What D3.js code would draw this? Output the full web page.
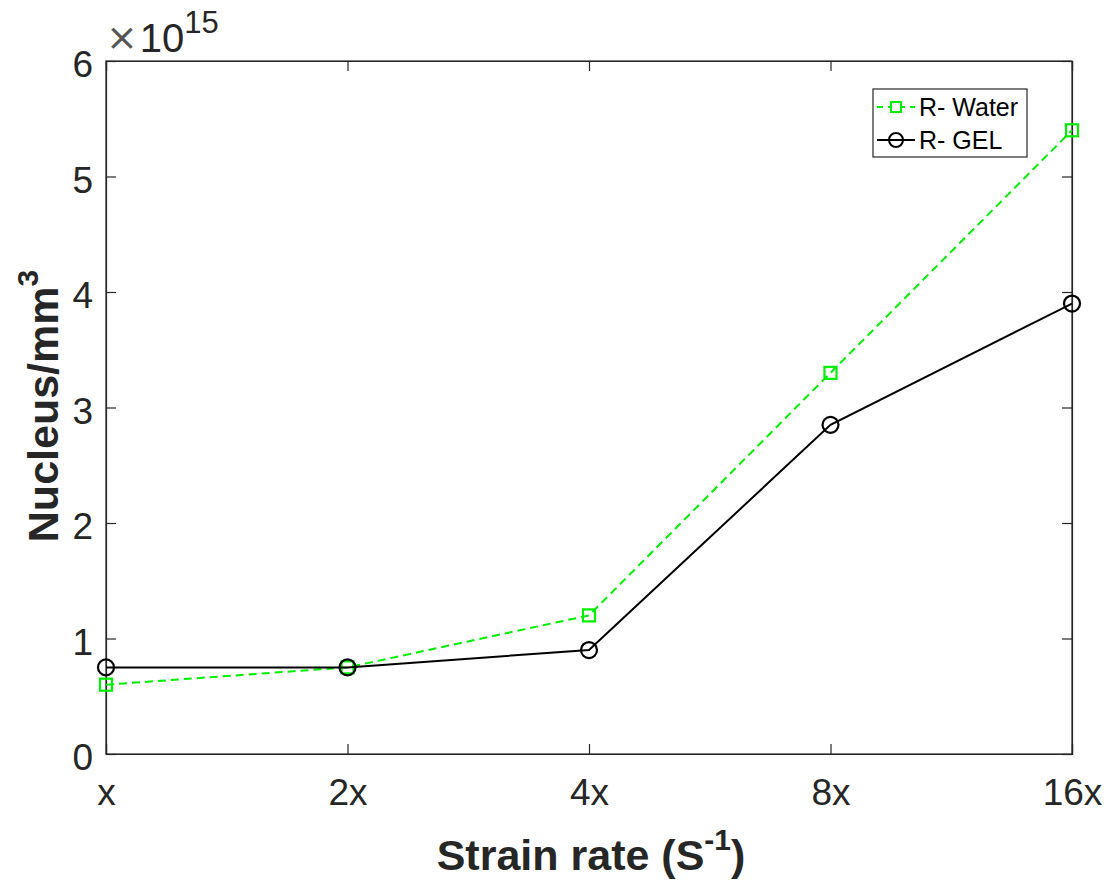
<!DOCTYPE html>
<html><head><meta charset="utf-8">
<script src="https://cdn.jsdelivr.net/npm/d3@7"></script>
<style>body{margin:0;background:#fff;} text{font-family:"Liberation Sans",Arial,sans-serif;}</style>
</head><body>
<svg id="c" width="1112" height="886"></svg>
<script>
const categories = ["x","2x","4x","8x","16x"];
const waterValues = [0.6, 0.75, 1.2, 3.3, 5.4];
const gelValues = [0.75, 0.75, 0.9, 2.85, 3.9];
const yTicks = [0,1,2,3,4,5,6];
const seriesNames = ["R- Water","R- GEL"];

const svg = d3.select("#c");
const L=106, R=1072, T=61, B=754;
const x = d3.scalePoint().domain(categories).range([L,R]);
const y = d3.scaleLinear().domain([0,6]).range([B,T]);
const axisColor="#262626";
const tickFont=37;

svg.append("rect").attr("x",L).attr("y",T).attr("width",R-L).attr("height",B-T)
  .attr("fill","#fff").attr("stroke",axisColor).attr("stroke-width",1.2);

const tl=10;
const gx = svg.append("g").attr("transform",`translate(0,${B})`)
  .call(d3.axisBottom(x).tickSize(-tl).tickPadding(0));
const gy = svg.append("g").attr("transform",`translate(${L},0)`)
  .call(d3.axisLeft(y).tickValues(yTicks).tickSize(-tl).tickPadding(13).tickFormat(d3.format("d")));
const gx2 = svg.append("g").attr("transform",`translate(0,${T})`)
  .call(d3.axisTop(x).tickSize(-tl).tickFormat(""));
const gy2 = svg.append("g").attr("transform",`translate(${R},0)`)
  .call(d3.axisRight(y).tickValues(yTicks).tickSize(-tl).tickFormat(""));
[gx,gy,gx2,gy2].forEach(g=>{
  g.select(".domain").attr("stroke",axisColor).attr("stroke-width",1.2);
  g.selectAll(".tick line").attr("stroke",axisColor).attr("stroke-width",1.2);
  g.selectAll(".tick text").attr("fill",axisColor).attr("font-size",tickFont).attr("font-family","Liberation Sans, Arial, sans-serif");
});
gx.selectAll(".tick text").attr("y",51).attr("dy",0);
gy.selectAll(".tick text").attr("dy","0.43em");

// exponent
const ex = svg.append("text").attr("x",106).attr("y",52).attr("fill",axisColor).attr("font-size",40);
ex.append("tspan").attr("font-size",38).attr("font-family","DejaVu Sans, sans-serif").attr("fill","#555").attr("dy",-2).text("\u00d7");
ex.append("tspan").attr("dx",2).attr("dy",2).text("10");
ex.append("tspan").attr("dy",-19).attr("font-size",31).text("15");

// axis labels
const labFont=43;
const xl = svg.append("text").attr("x",591).attr("y",870).attr("text-anchor","middle")
  .attr("font-weight","bold").attr("font-size",labFont).attr("fill",axisColor);
xl.append("tspan").text("Strain rate (S");
xl.append("tspan").attr("dy",-20).attr("font-size",30).text("-1");
xl.append("tspan").attr("dy",20).text(")");

const yl = svg.append("text").attr("transform","translate(58,406) rotate(-90)").attr("text-anchor","middle")
  .attr("font-weight","bold").attr("font-size",labFont).attr("fill",axisColor);
yl.append("tspan").text("Nucleus/mm");
yl.append("tspan").attr("dy",-20).attr("font-size",30).text("3");

const green="#00ee00";
const line = d3.line().x((d,i)=>x(categories[i])).y(d=>y(d));

svg.append("path").datum(waterValues).attr("d",line).attr("fill","none")
  .attr("stroke",green).attr("stroke-width",2).attr("stroke-dasharray","8,5");
svg.selectAll(".sq").data(waterValues).enter().append("rect")
  .attr("x",(d,i)=>x(categories[i])-6).attr("y",d=>y(d)-6).attr("width",12).attr("height",12)
  .attr("fill","none").attr("stroke",green).attr("stroke-width",2.2);
svg.append("path").datum(gelValues).attr("d",line).attr("fill","none")
  .attr("stroke","#000").attr("stroke-width",2);
svg.selectAll(".ci").data(gelValues).enter().append("circle")
  .attr("cx",(d,i)=>x(categories[i])).attr("cy",d=>y(d)).attr("r",8)
  .attr("fill","none").attr("stroke","#000").attr("stroke-width",2.2);

// legend
const lg = svg.append("g");
lg.append("rect").attr("x",873).attr("y",89).attr("width",154).attr("height",68)
  .attr("fill","#fff").attr("stroke",axisColor).attr("stroke-width",1.2);
const ly1=107, ly2=140;
lg.append("line").attr("x1",877).attr("x2",915).attr("y1",ly1).attr("y2",ly1)
  .attr("stroke",green).attr("stroke-width",2).attr("stroke-dasharray","6,5");
lg.append("rect").attr("x",891).attr("y",ly1-5).attr("width",10).attr("height",10)
  .attr("fill","#fff").attr("stroke",green).attr("stroke-width",2);
lg.append("line").attr("x1",877).attr("x2",915).attr("y1",ly2).attr("y2",ly2)
  .attr("stroke","#000").attr("stroke-width",2);
lg.append("circle").attr("cx",896).attr("cy",ly2).attr("r",7)
  .attr("fill","none").attr("stroke","#000").attr("stroke-width",2);
lg.append("text").attr("x",919).attr("y",ly1+9).attr("font-size",25).attr("fill","#000").text(seriesNames[0]);
lg.append("text").attr("x",919).attr("y",ly2+9).attr("font-size",25).attr("fill","#000").text(seriesNames[1]);
</script>
</body></html>
